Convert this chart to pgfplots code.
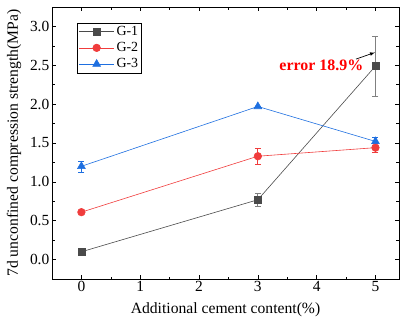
\documentclass[border=0pt]{standalone}
\usepackage{pgfplots}
\pgfplotsset{compat=1.18}
\usepackage{fontspec}
\setmainfont{Liberation Serif}
\definecolor{cg}{HTML}{4A4A4A}
\definecolor{cr}{HTML}{F03C3C}
\definecolor{cb}{HTML}{1E6FE0}
\begin{document}
\begin{tikzpicture}
\useasboundingbox (-52bp,-44bp) rectangle (350bp,279bp);
\begin{axis}[
  at={(0,0)}, anchor=south west,
  scale only axis, width=347bp, height=272bp,
  xmin=-0.5, xmax=5.4, ymin=-0.25, ymax=3.25,
  xtick={0,1,2,3,4,5}, ytick={0,0.5,1,1.5,2,2.5,3},
  minor x tick num=1, minor y tick num=1,
  yticklabel style={inner sep=2.5pt, /pgf/number format/.cd,fixed,fixed zerofill,precision=1},
  /pgf/number format/assume math mode=true,
  tick align=inside, tick style={black, line width=0.6pt},
  major tick length=4bp, minor tick length=2.5bp,
  axis line style={line width=0.8pt},
  ticklabel style={font=\fontsize{15.5}{15.5}\selectfont},
  xticklabel style={inner sep=2pt},
  xlabel={Additional cement content(\%)},
  ylabel={7d unconfined compression strength(MPa)},
  label style={font=\fontsize{15.7}{15.7}\selectfont},
  xlabel style={at={(axis description cs:0.5,-0.114)}, anchor=center},
  ylabel style={at={(axis description cs:-0.1095,0.5)}, anchor=center},
  legend style={at={(axis description cs:0.072,0.943)}, anchor=north west, draw=black, line width=0.6pt,
     font=\fontsize{14}{14}\selectfont, row sep=1.5pt, inner sep=1.5pt},
  legend cell align=left,
  legend image code/.code={\draw[mark repeat=2,mark phase=2,#1] plot coordinates {(0cm,0cm) (0.62cm,0cm) (1.24cm,0cm)};},
  error bars/error bar style={line width=0.7pt},
]
\addplot[color=cg, line width=0.6pt, mark=square*, mark size=3.6,
  error bars/.cd, y dir=both, y explicit, error mark options={rotate=90, mark size=3pt, color=gray, line width=0.7pt}, error bar style={color=gray}]
  coordinates {(0,0.10) +- (0,0.0) (3,0.77) +- (0,0.08) (5,2.49) +- (0,0.385)};
\addlegendentry{G-1}
\addplot[color=cr, line width=0.6pt, mark=*, mark size=3.8,
  error bars/.cd, y dir=both, y explicit, error mark options={rotate=90, mark size=3pt, color=cr}]
  coordinates {(0,0.61) +- (0,0.0) (3,1.33) +- (0,0.10) (5,1.44) +- (0,0.06)};
\addlegendentry{G-2}
\addplot[color=cb, line width=0.6pt, mark=triangle*, mark size=4.5,
  error bars/.cd, y dir=both, y explicit, error mark options={rotate=90, mark size=3pt, color=cb}]
  coordinates {(0,1.20) +- (0,0.07) (3,1.97) +- (0,0.0) (5,1.52) +- (0,0.05)};
\addlegendentry{G-3}
\draw[-latex, line width=0.7pt] (axis cs:4.67,2.58) -- (axis cs:4.99,2.665);
\node[text=red, font=\bfseries\fontsize{16}{16}\selectfont] at (axis cs:4.08,2.505) {error 18.9\%};
\end{axis}
\end{tikzpicture}
\end{document}
